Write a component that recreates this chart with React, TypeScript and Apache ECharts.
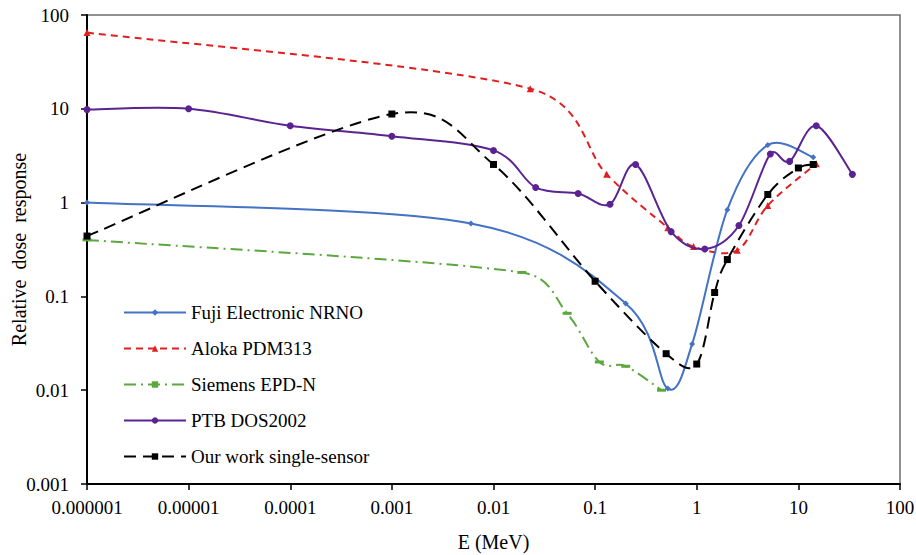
import React, { useEffect, useRef } from "react";
import * as echarts from "echarts";

const xTickLabels = ["0.000001", "0.00001", "0.0001", "0.001", "0.01", "0.1", "1", "10", "100"];
const yTickLabels = ["0.001", "0.01", "0.1", "1", "10", "100"];

const fujiE = [0.000001, 0.006, 0.2, 0.52, 0.9, 2, 5, 14];
const fujiR = [1.0, 0.6, 0.084, 0.0104, 0.031, 0.84, 4.1, 3.05];

const alokaE = [0.000001, 0.023, 0.13, 0.52, 0.93, 2.5, 5, 15];
const alokaR = [65, 16.4, 2.0, 0.54, 0.34, 0.31, 0.93, 2.6];

const siemensE = [0.000001, 0.019, 0.053, 0.11, 0.2, 0.45];
const siemensR = [0.4, 0.18, 0.066, 0.02, 0.018, 0.01];

const ptbE = [0.000001, 0.00001, 0.0001, 0.001, 0.01, 0.026, 0.068, 0.14, 0.25, 0.56, 1.2, 2.6, 5.3, 8.2, 15, 34];
const ptbR = [9.8, 10, 6.6, 5.1, 3.6, 1.45, 1.25, 0.96, 2.55, 0.49, 0.32, 0.57, 3.3, 2.75, 6.6, 2.0];

const oursE = [0.000001, 0.001, 0.01, 0.1, 0.5, 1.0, 1.5, 2, 5, 10, 14];
const oursR = [0.44, 8.8, 2.55, 0.145, 0.0245, 0.019, 0.11, 0.247, 1.22, 2.34, 2.55];

const FONT = "Liberation Serif";

const zip = (xs: number[], ys: number[]) => xs.map((x, i) => [x, ys[i]]);

const dist = (a: number[], b: number[]) => Math.hypot(a[0] - b[0], a[1] - b[1]);

// Excel-like smoothed line: cubic Bezier with tension 1/6, arms capped at half the segment
function smoothPath(pts: number[][]): string {
  let d = `M${pts[0][0]},${pts[0][1]}`;
  for (let i = 0; i < pts.length - 1; i++) {
    const p0 = pts[i - 1] ?? pts[i];
    const p1 = pts[i];
    const p2 = pts[i + 1];
    const p3 = pts[i + 2] ?? pts[i + 1];
    const d12 = dist(p1, p2);
    const d02 = dist(p0, p2);
    const d13 = dist(p1, p3);
    let f0 = 1 / 6;
    let f1 = 1 / 6;
    if (d02 / 6 >= d12 / 2 && d02 > 0) f0 = d12 / 2 / d02;
    if (d13 / 6 >= d12 / 2 && d13 > 0) f1 = d12 / 2 / d13;
    const c1x = p1[0] + (p2[0] - p0[0]) * f0;
    const c1y = p1[1] + (p2[1] - p0[1]) * f0;
    const c2x = p2[0] - (p3[0] - p1[0]) * f1;
    const c2y = p2[1] - (p3[1] - p1[1]) * f1;
    d += ` C${c1x},${c1y} ${c2x},${c2y} ${p2[0]},${p2[1]}`;
  }
  return d;
}

type Def = {
  name: string;
  xs: number[];
  ys: number[];
  color: string;
  dash: number[] | "solid";
  symbol: string;
  symbolSize: number | number[];
  z: number;
};

const defs: Def[] = [
  { name: "Fuji Electronic NRNO", xs: fujiE, ys: fujiR, color: "#4472C4", dash: "solid", symbol: "diamond", symbolSize: 6, z: 3 },
  { name: "Aloka PDM313", xs: alokaE, ys: alokaR, color: "#E02020", dash: [7, 5], symbol: "triangle", symbolSize: 7, z: 2 },
  { name: "Siemens EPD-N", xs: siemensE, ys: siemensR, color: "#5BA83E", dash: [12, 5, 2, 5], symbol: "rect", symbolSize: [9, 3], z: 2 },
  { name: "PTB DOS2002", xs: ptbE, ys: ptbR, color: "#5B2392", dash: "solid", symbol: "circle", symbolSize: 7, z: 4 },
  { name: "Our work single-sensor", xs: oursE, ys: oursR, color: "#000000", dash: [12, 7], symbol: "rect", symbolSize: 7, z: 5 },
];

export default function App() {
  const ref = useRef<HTMLDivElement>(null);
  useEffect(() => {
    if (!ref.current) return;
    const chart = echarts.init(ref.current, undefined, { renderer: "svg" });

    const curveSeries = defs.map((d) => ({
      type: "custom",
      name: d.name + " curve",
      data: zip(d.xs, d.ys),
      z: d.z,
      silent: true,
      renderItem: (params: any, api: any) => {
        if (params.dataIndex !== 0) return null;
        const pts = d.xs.map((x, i) => api.coord([x, d.ys[i]]));
        return {
          type: "path",
          shape: { pathData: smoothPath(pts) },
          style: {
            fill: "none",
            stroke: d.color,
            lineWidth: 2,
            lineDash: d.dash === "solid" ? null : d.dash,
          },
        };
      },
    }));

    const markerSeries = defs.map((d) => ({
      type: "line",
      name: d.name,
      data: zip(d.xs, d.ys),
      symbol: d.symbol,
      symbolSize: d.symbolSize,
      itemStyle: { color: d.color },
      lineStyle: { color: d.color, width: 2, opacity: 0 },
      z: d.z + 0.5,
    }));

    chart.setOption({
      animation: false,
      backgroundColor: "#ffffff",
      textStyle: { fontFamily: FONT },
      grid: {
        left: 87,
        right: 16,
        top: 15,
        bottom: 71,
        outerBoundsMode: "none",
        containLabel: false,
        show: true,
        borderColor: "#6e6e6e",
        borderWidth: 1.5,
        backgroundColor: "transparent",
      },
      legend: {
        orient: "vertical",
        left: 118,
        top: 298,
        itemWidth: 62,
        itemHeight: 8,
        itemGap: 17,
        textStyle: { fontFamily: FONT, fontSize: 19, color: "#000" },
        data: defs.map((d) => ({
          name: d.name,
          itemStyle: { color: d.color },
          lineStyle: { color: d.color, width: 2, type: d.dash, opacity: 1 },
        })),
      },
      xAxis: {
        type: "log",
        logBase: 10,
        min: 0.000001,
        max: 100,
        interval: 1,
        name: "E (MeV)",
        nameLocation: "middle",
        nameGap: 48,
        nameMoveOverlap: false,
        nameTextStyle: { fontFamily: FONT, fontSize: 20, color: "#000" },
        axisLine: { show: true, lineStyle: { color: "#000", width: 2 } },
        axisTick: { show: true, length: 6, lineStyle: { color: "#000", width: 1.5 } },
        minorTick: { show: false },
        splitLine: { show: false },
        axisLabel: {
          margin: 14,
          fontFamily: FONT,
          fontSize: 19,
          color: "#000",
          formatter: (v: number) => xTickLabels[Math.round(Math.log10(v)) + 6] ?? "",
        },
      },
      yAxis: {
        type: "log",
        logBase: 10,
        min: 0.001,
        max: 100,
        interval: 1,
        name: "Relative  dose  response",
        nameLocation: "middle",
        nameGap: 58,
        nameMoveOverlap: false,
        nameTextStyle: { fontFamily: FONT, fontSize: 20, color: "#000" },
        axisLine: { show: true, lineStyle: { color: "#000", width: 2 } },
        axisTick: { show: true, length: 6, lineStyle: { color: "#000", width: 1.5 } },
        minorTick: { show: false },
        splitLine: { show: false },
        axisLabel: {
          margin: 18,
          fontFamily: FONT,
          fontSize: 19,
          color: "#000",
          formatter: (v: number) => yTickLabels[Math.round(Math.log10(v)) + 3] ?? "",
        },
      },
      series: [...markerSeries, ...curveSeries],
    });
    return () => chart.dispose();
  }, []);
  return (
    <div
      ref={ref}
      style={{ position: "fixed", left: 0, top: 0, width: 916, height: 555, background: "#fff" }}
    />
  );
}
